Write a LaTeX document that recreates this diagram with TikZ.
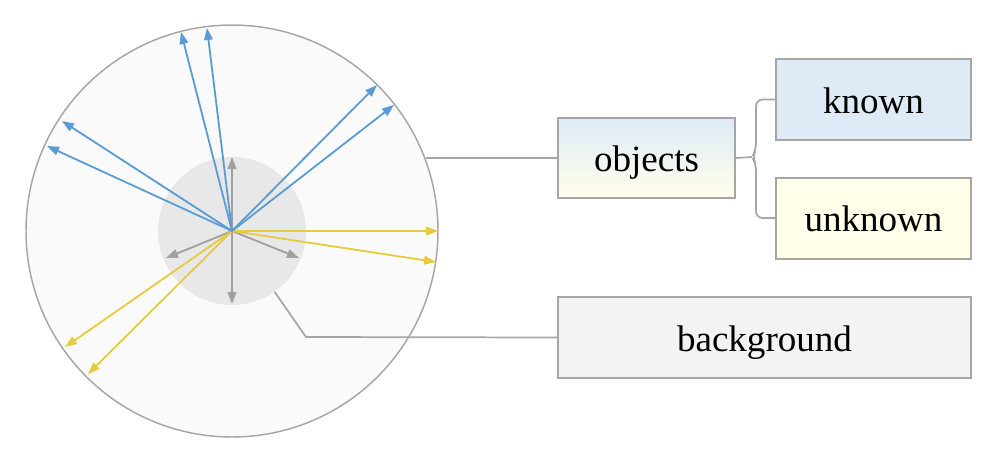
\documentclass[tikz,border=0pt]{standalone}
\usepackage{fontspec}
\setmainfont{Liberation Serif}
\usetikzlibrary{arrows.meta}
\definecolor{rim}{RGB}{166,166,166}
\definecolor{ptblue}{RGB}{91,155,213}
\definecolor{ptgold}{RGB}{229,204,62}
\definecolor{ptgrey}{RGB}{160,160,160}
\definecolor{knownfill}{RGB}{222,235,247}
\definecolor{unknownfill}{RGB}{255,255,234}
\definecolor{bgfill}{RGB}{243,243,243}
\tikzset{
  box/.style={rectangle, draw=rim, line width=1.5pt, minimum height=60.75pt, text height=20.8pt, text depth=0pt, font=\fontsize{27.8}{33}\selectfont},
  ray/.style={->, line width=1.35pt},
  link/.style={draw=rim, line width=1.3pt}
}

\begin{document}
\begin{tikzpicture}[x=0.75pt, y=-0.75pt, >={Triangle[length=9pt,width=6.5pt]}]
\useasboundingbox (0,0) rectangle (1000,458);
\node (big) at (232,231) [circle, minimum size=309pt, draw=rim, line width=1.1pt, fill=black!2] {};
\node (inner) at (232,231) [circle, minimum size=111pt, fill=black!9] {};
\coordinate (c) at (232,231);
% grey rays
\coordinate (g1) at (232,157);
\coordinate (g2) at (232,304);
\coordinate (g3) at (166,258);
\coordinate (g4) at (299,258);
\draw[ray, ptgrey] (c) -- (g1);
\draw[ray, ptgrey] (c) -- (g2);
\draw[ray, ptgrey] (c) -- (g3);
\draw[ray, ptgrey] (c) -- (g4);
% yellow rays
\coordinate (y1) at (438,231);
\coordinate (y2) at (436,262);
\coordinate (y3) at (65,347);
\coordinate (y4) at (88,374);
\draw[ray, ptgold] (c) -- (y1);
\draw[ray, ptgold] (c) -- (y2);
\draw[ray, ptgold] (c) -- (y3);
\draw[ray, ptgold] (c) -- (y4);
% blue rays
\coordinate (b1) at (181,32);
\coordinate (b2) at (207,28);
\coordinate (b3) at (62,121);
\coordinate (b4) at (47,146);
\coordinate (b5) at (377,85);
\coordinate (b6) at (394,105);
\draw[ray, ptblue] (c) -- (b1);
\draw[ray, ptblue] (c) -- (b2);
\draw[ray, ptblue] (c) -- (b3);
\draw[ray, ptblue] (c) -- (b4);
\draw[ray, ptblue] (c) -- (b5);
\draw[ray, ptblue] (c) -- (b6);
% labels
\node (objects) at (646.5,158) [box, minimum width=132.75pt, minimum height=60pt, top color=knownfill, bottom color=unknownfill] {objects};
\node (known) at (873.5,99.5) [box, minimum width=146.25pt, fill=knownfill] {known};
\node (unknown) at (873.5,218) [box, minimum width=146.25pt, fill=unknownfill] {unknown};
\node (background) at (764.5,337.5) [box, minimum width=309.75pt, fill=bgfill] {background};
% connectors
\coordinate (knee) at (306,337);
\coordinate (tip) at (752,157);
\draw[link] (big.20.75 |- objects.west) -- (objects.west);
\draw[link] (inner.-55) -- (knee) -- (background.west);
\draw[link] (objects.east) -- (tip);
\draw[link, rounded corners=5pt] (known.west) -| (756,150) -- (tip) -- (756,164) |- (unknown.west);
\end{tikzpicture}
\end{document}
